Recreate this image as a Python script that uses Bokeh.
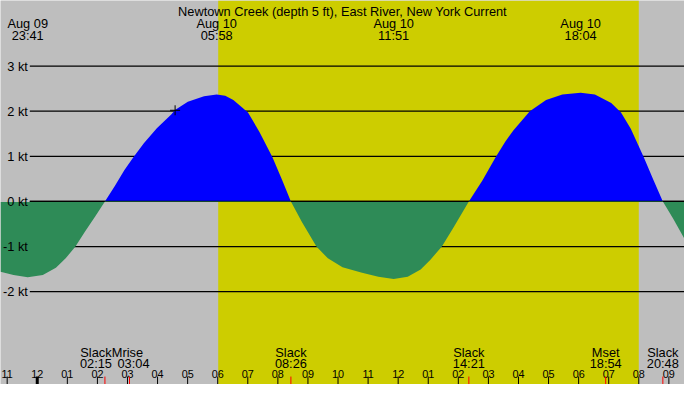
import numpy as np
from bokeh.plotting import figure
from bokeh.models import Range1d, BoxAnnotation
from bokeh.core.properties import value
from bokeh.embed import file_html
from bokeh.resources import INLINE

# ---------------- data ----------------
title_text = "Newtown Creek (depth 5 ft), East River, New York Current"

# tidal current: hours after Aug 10 00:00, speed in knots (flood +, ebb -)
curve_hours = [-1.222, -0.790, -0.317, 0.185, 0.620, 0.945, 1.270, 1.595, 1.920,
               2.250, 2.569, 2.894, 3.196, 3.544, 3.976, 4.463, 4.593, 5.006,
               5.545, 5.967, 6.250, 6.520, 7.007, 7.388, 7.820, 8.145, 8.433,
               8.794, 9.282, 9.662, 10.149, 10.799, 11.341, 11.850, 12.316,
               12.748, 13.073, 13.453, 13.830, 14.350, 14.805, 15.240, 15.565,
               15.835, 16.377, 16.917, 17.459, 18.067, 18.541, 19.084, 19.409,
               19.734, 20.166, 20.491, 20.800, 21.140, 21.520]
curve_knots = [-1.56, -1.63, -1.68, -1.63, -1.47, -1.26, -1.00, -0.66, -0.34,
               0.00, 0.33, 0.69, 0.98, 1.29, 1.62, 1.93, 2.03, 2.21,
               2.33, 2.37, 2.34, 2.25, 1.97, 1.54, 0.98, 0.47, 0.00,
               -0.45, -1.00, -1.26, -1.46, -1.58, -1.67, -1.72, -1.67,
               -1.51, -1.29, -1.00, -0.59, 0.00, 0.47, 0.98, 1.33,
               1.58, 2.00, 2.25, 2.37, 2.41, 2.37, 2.18, 1.97,
               1.61, 0.98, 0.47, 0.00, -0.38, -0.83]

grid_knots = [-2, -1, 0, 1, 2, 3]
grid_labels = ["-2 kt", "-1 kt", "0 kt", "1 kt", "2 kt", "3 kt"]

hour_ticks = list(range(-1, 22))
hour_labels = ["11", "12", "01", "02", "03", "04", "05", "06", "07", "08", "09", "10",
               "11", "12", "01", "02", "03", "04", "05", "06", "07", "08", "09"]

extreme_dates = ["Aug 09", "Aug 10", "Aug 10", "Aug 10"]
extreme_times = ["23:41", "05:58", "11:51", "18:04"]
extreme_day = [-1, 0, 0, 0]

event_names = ["Slack", "Mrise", "Slack", "Slack", "Mset", "Slack"]
event_times = ["02:15", "03:04", "08:26", "14:21", "18:54", "20:48"]

sunrise = "06:01"
sunset = "20:00"

marker_time = "04:35"
marker_knots = 2.02

view_hours = (-1.222, 21.520)
view_knots = (-4.057, 4.453)

# ---------------- helpers ----------------
def to_h(t, day=0):
    hh, mm = t.split(":")
    return day * 24 + int(hh) + int(mm) / 60.0

W, H = 684, 384
x0, x1 = view_hours
y0, y1 = view_knots

def px2h(px):
    return x0 + px / 700.0 * (x1 - x0)

def px2v(py):
    return y1 - py / 400.0 * (y1 - y0)

FONT = value("Liberation Sans")
GRAY = "#BEBEBE"
YELLOW = "#CDCD00"
FS = "12.8px"

p = figure(width=W, height=H, output_backend="svg", toolbar_location=None,
           x_range=Range1d(x0, x1), y_range=Range1d(y0, y1),
           min_border=0, min_border_left=0, min_border_right=0,
           min_border_top=0, min_border_bottom=0)
p.xaxis.visible = False
p.yaxis.visible = False
p.grid.visible = False
p.outline_line_color = None
p.background_fill_color = GRAY
p.border_fill_color = GRAY

# daylight band
p.add_layout(BoxAnnotation(left=to_h(sunrise), right=to_h(sunset),
                           fill_color=YELLOW, fill_alpha=1.0, line_alpha=0,
                           level="underlay"))

# horizontal grid lines
gx0 = px2h(30)
p.segment(x0=[gx0] * len(grid_knots), x1=[x1] * len(grid_knots),
          y0=grid_knots, y1=grid_knots, line_color="black", line_width=1.2)

h = np.array(curve_hours)
v = np.array(curve_knots)
p.varea(x=h, y1=np.zeros_like(v), y2=np.maximum(v, 0), fill_color="#0000FF")
# zero line visible across the flood area
p.segment(x0=[gx0], x1=[x1], y0=[0], y1=[0], line_color="black", line_width=1.2)
p.varea(x=h, y1=np.zeros_like(v) - 0.012, y2=np.minimum(v, 0), fill_color="#2E8B57")

# grid labels
p.text(x=[px2h(28)] * len(grid_knots), y=grid_knots, text=grid_labels,
       text_font=FONT, text_font_size=FS, text_align="right",
       text_baseline="middle", text_color="black")

# marker
p.scatter(x=[to_h(marker_time)], y=[marker_knots], marker="cross", size=10,
          line_color="black", line_width=1)

# title
p.text(x=[px2h(350)], y=[px2v(11.7)], text=[title_text], text_font=FONT,
       text_font_size=FS, text_align="center", text_baseline="alphabetic",
       text_color="black")

# extreme labels (top)
eh = [to_h(t, d) for t, d in zip(extreme_times, extreme_day)]
p.text(x=eh, y=[px2v(24)] * len(eh), text=extreme_dates, text_font=FONT,
       text_font_size=FS, text_align="center", text_baseline="alphabetic",
       text_color="black")
p.text(x=eh, y=[px2v(36)] * len(eh), text=extreme_times, text_font=FONT,
       text_font_size=FS, text_align="center", text_baseline="alphabetic",
       text_color="black")

# hour ticks and labels (bottom)
tick_w = [3 if t == 0 else 1 for t in hour_ticks]
p.segment(x0=hour_ticks, x1=hour_ticks, y0=[px2v(391.7)] * len(hour_ticks),
          y1=[y0] * len(hour_ticks), line_color="black", line_width=tick_w)
p.text(x=hour_ticks, y=[px2v(389.3)] * len(hour_ticks), text=hour_labels,
       text_font=FONT, text_font_size="10.8px", text_align="center",
       text_baseline="alphabetic", text_color="black")

# events (slack / moon)
evh = [to_h(t) for t in event_times]
p.segment(x0=evh, x1=evh, y0=[px2v(391.7)] * len(evh), y1=[y0] * len(evh),
          line_color="red", line_width=1)
name_dx = [-9, -2, 0, 0, 0, 0]
time_dx = [-9, 4, 0, 0, 0, 0]
p.text(x=evh, y=[px2v(366.7)] * len(evh), text=event_names, x_offset=name_dx,
       text_font=FONT, text_font_size=FS, text_align="center",
       text_baseline="alphabetic", text_color="black")
p.text(x=evh, y=[px2v(377.7)] * len(evh), text=event_times, x_offset=time_dx,
       text_font=FONT, text_font_size=FS, text_align="center",
       text_baseline="alphabetic", text_color="black")

open("out.html", "w").write(file_html(p, INLINE))
